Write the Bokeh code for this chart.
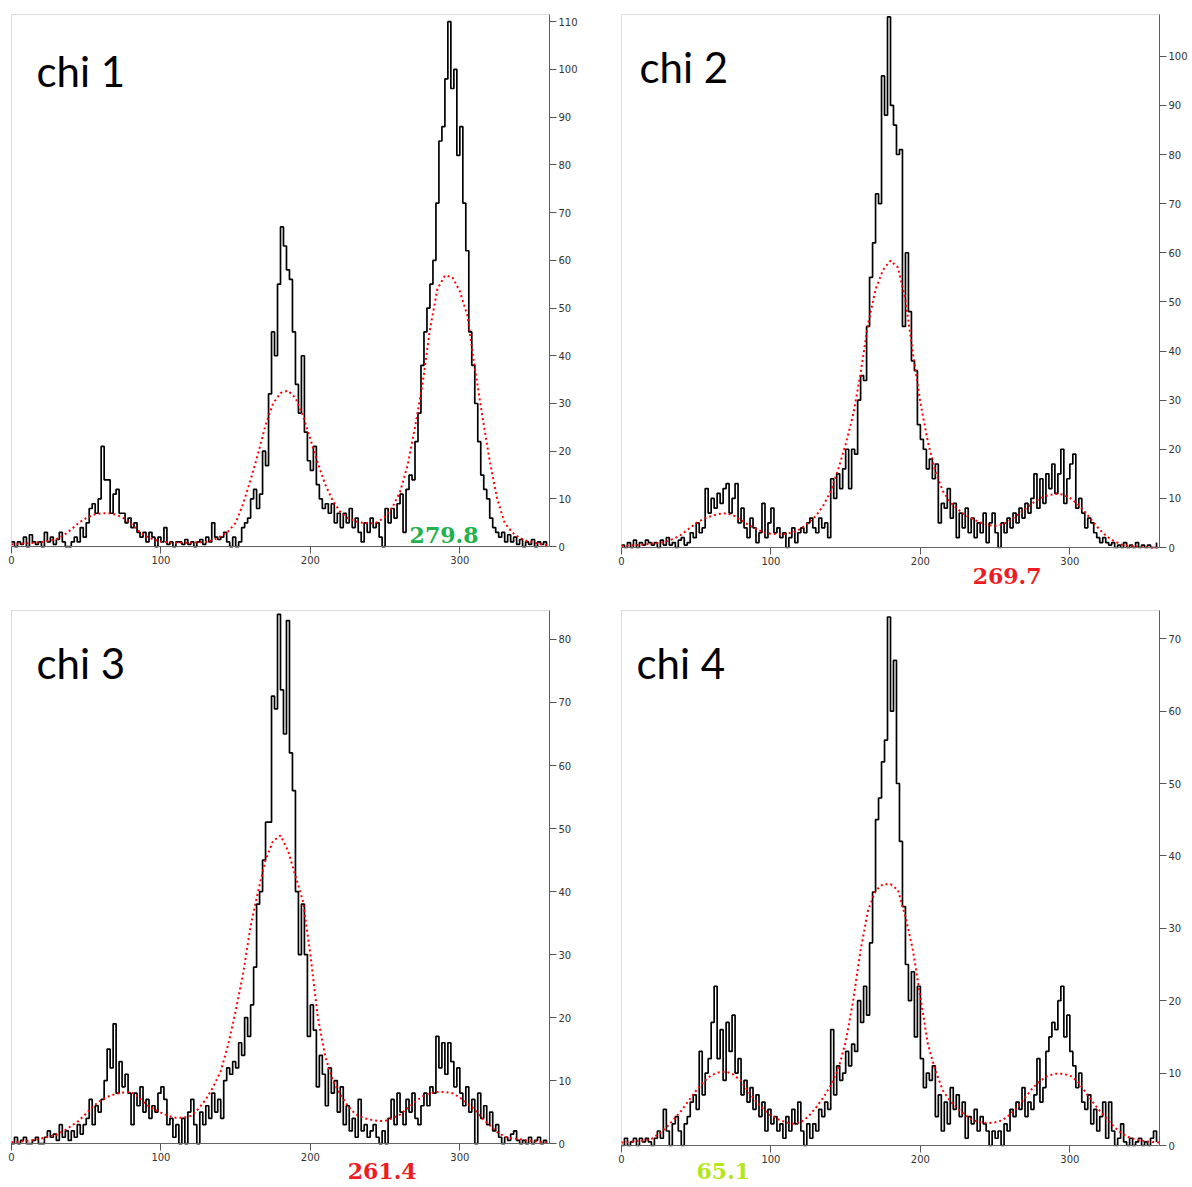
import numpy as np
from bokeh.plotting import figure
from bokeh.models import Range1d, LinearAxis, FixedTicker, Label, BoxAnnotation
from bokeh.layouts import row, column
from bokeh.embed import file_html
from bokeh.resources import INLINE

# ---------------- data ----------------
angle_hist = np.arange(0, 360, 2)      # histogram bins (deg)
angle_fit = np.arange(0, 361, 5)       # fitted curve samples (deg)

chi1_hist = [1, 0, 1, 0.5, 2, 0, 2.5, 1, 0.5, 1,
             0, 3, 1, 2, 0.5, 1.5, 3, 1, 0, 0,
             1, 2, 1, 4, 2, 5, 8, 9, 7, 10,
             21, 14, 14, 7, 11, 12, 7, 7, 5, 6,
             4, 5, 3, 2, 3, 1, 3, 2, 0, 2,
             1, 4, 0.5, 1, 0, 1, 1, 0.5, 1.5, 0.5,
             1, 0, 1, 1.5, 0.5, 2, 1, 5, 2, 1.5,
             2, 3, 1, 0, 2, 0, 1, 4, 5, 6,
             10, 12, 8, 11, 20, 17, 32, 45, 40, 55,
             67, 63, 58, 56, 45, 34, 28, 40, 24, 18,
             16, 21, 13, 10, 8, 9, 7, 9, 5, 7,
             4, 7, 5, 8, 4, 6, 3, 1, 5, 3,
             6, 4, 5, 2, 0, 8, 5, 8, 6, 9,
             11, 3, 12, 15, 14, 22, 28, 38, 45, 50,
             55, 60, 72, 85, 88, 98, 110, 96, 100, 82,
             88, 72, 62, 45, 38, 30, 22, 15, 12, 10,
             6, 4, 3, 2, 3, 1, 2.5, 1, 2, 0.5,
             1.5, 0, 1, 0.5, 1.5, 0, 1, 0.5, 1, 0]

chi2_hist = [0.5, 0, 1, 0, 1.5, 0, 1, 0.5, 1.5, 1,
             0.5, 1, 0, 1.5, 0.5, 2, 0.5, 1, 0, 1.5,
             2, 0.5, 1, 3, 2, 5, 3, 4, 12, 7,
             10, 8, 11, 9, 12, 13, 7, 10, 13, 5,
             8, 4, 2, 6, 4, 1, 3, 9, 2, 5,
             8, 3, 4, 2, 3, 0, 2, 4, 1, 3,
             4, 3, 5, 6, 4, 3, 6, 4, 5, 2,
             14, 10, 15, 12, 16, 20, 12, 20, 19, 30,
             35, 34, 45, 55, 62, 72, 70, 96, 88, 108,
             90, 86, 80, 81, 45, 60, 48, 38, 36, 25,
             22, 20, 16, 18, 14, 17, 5, 9, 8, 12,
             6, 9, 2, 7, 4, 8, 3, 6, 2, 5,
             3, 7, 1, 5, 7, 3, 0, 5, 3, 6,
             4, 7, 5, 8, 6, 9, 7, 10, 15, 8,
             14, 9, 15, 12, 17, 11, 15, 20, 9, 14,
             17, 19, 8, 10, 7, 4, 6, 5, 3, 2,
             1, 2, 1, 0.5, 1, 0, 0.5, 0, 1, 0,
             0.5, 0, 1, 0, 0.5, 0, 0.5, 0, 0, 1]

chi3_hist = [0, 1, 0, 0.5, 1, 0, 0, 0.5, 1, 0,
             0, 1, 2, 1, 1.5, 0.5, 3, 1, 2, 0.5,
             2, 1, 3, 1.5, 3, 4, 7, 3, 6, 5,
             7, 10, 15, 12, 19, 8, 13, 9, 11, 8,
             3, 8, 6, 9, 5, 7, 4, 6, 5, 8,
             9, 7, 3, 4, 1, 3, 0, 4, 0, 5,
             7, 3, 0, 5, 3, 6, 4, 8, 5, 7,
             4, 10, 12, 11, 13, 12, 16, 14, 20, 17,
             22, 28, 38, 40, 45, 51, 51, 71, 69, 84,
             72, 65, 83, 62, 56, 40, 30, 38, 30, 17,
             22, 18, 9, 14, 11, 6, 12, 8, 10, 5,
             9, 3, 6, 2, 4, 1, 7, 2, 3, 1,
             2, 3, 1, 0, 2, 0, 4, 7, 3, 8,
             5, 3, 7, 5, 8, 4, 3, 6, 8, 6,
             9, 8, 17, 12, 16, 11, 16, 13, 9, 12,
             8, 6, 9, 5, 7, 0, 8, 4, 6, 3,
             5, 2, 3, 1, 0, 1, 0.5, 1.5, 2, 0.5,
             0, 0.5, 0, 1, 0, 0.5, 1, 0, 0.5, 0]

chi4_hist = [0, 1, 0, 0.5, 1, 0, 1, 0.5, 1, 0.5,
             0, 1, 2, 1, 5, 2, 0, 3, 4, 2,
             0, 3, 4, 6, 7, 5, 13, 7, 10, 12,
             17, 22, 12, 16, 9, 17, 13, 18, 10, 12,
             7, 9, 6, 8, 5, 7, 4, 6, 2, 5,
             3, 4, 2, 3, 1, 4, 2, 5, 3, 6,
             2, 0, 3, 1, 3, 2, 5, 4, 6, 5,
             16, 7, 11, 9, 10, 13, 11, 14, 13, 20,
             17, 22, 18, 28, 35, 45, 48, 53, 56, 73,
             60, 67, 50, 42, 33, 25, 20, 24, 15, 22,
             12, 8, 10, 9, 11, 4, 7, 2, 6, 3,
             8, 5, 7, 4, 6, 1, 4, 3, 5, 2,
             4, 3, 2, 0, 2, 1, 2, 0, 3, 2,
             5, 4, 6, 5, 8, 4, 6, 5, 7, 12,
             6, 8, 13, 15, 17, 16, 20, 22, 15, 18,
             13, 11, 8, 10, 6, 5, 7, 3, 5, 2,
             4, 6, 1, 6, 2, 0, 1, 3, 0.5, 0,
             1, 0, 0.5, 1, 0, 0.5, 0, 1, 2, 0.5]

chi1_fit = [0.5, 0.6, 0.7, 0.8, 1.0, 1.2, 1.6, 2.4, 3.6, 5.0,
            6.0, 6.7, 7.0, 7.0, 6.7, 6.0, 4.8, 3.3, 2.2, 1.5,
            1.1, 0.9, 0.8, 0.8, 0.8, 0.9, 1.0, 1.4, 2.2, 3.2,
            5.0, 9.0, 14.0, 19.5, 25.5, 30.0, 32.2, 32.7, 31.2, 27.5,
            22.5, 17.5, 13.0, 9.6, 7.3, 6.0, 5.3, 5.0, 4.9, 5.1,
            6.3, 8.3, 11.5, 17.0, 25.0, 34.0, 45.5, 54.0, 56.8, 56.5,
            53.5, 48.5, 37.5, 27.5, 18.0, 10.0, 5.0, 3.0, 1.8, 1.2,
            0.8, 0.5, 0.2]

chi2_fit = [0.3, 0.4, 0.5, 0.6, 0.8, 0.9, 1.2, 1.8, 2.6, 3.8,
            5.0, 5.8, 6.4, 6.8, 7.0, 6.5, 5.6, 4.6, 3.8, 3.1,
            2.8, 2.7, 2.8, 3.1, 3.8, 5.0, 6.4, 8.5, 11.5, 15.9,
            21.0, 27.0, 35.5, 45.5, 52.5, 56.5, 58.4, 57.0, 50.5, 39.5,
            29.5, 21.5, 15.5, 11.5, 9.2, 7.8, 6.6, 5.8, 5.1, 4.6,
            4.4, 4.7, 5.5, 6.6, 7.8, 9.0, 10.0, 10.6, 10.9, 10.8,
            10.1, 8.9, 7.3, 5.4, 3.6, 2.2, 1.2, 0.6, 0.3, 0.2,
            0.1, 0.0, 0.0]

chi3_fit = [0.2, 0.3, 0.4, 0.6, 0.8, 1.1, 1.4, 2.0, 2.8, 3.6,
            4.8, 6.0, 6.9, 7.5, 7.9, 8.1, 8.2, 7.4, 6.2, 5.5,
            4.9, 4.4, 4.1, 4.1, 4.4, 5.5, 7.0, 9.0, 11.5, 15.7,
            21.0, 27.0, 34.5, 40.0, 45.0, 48.0, 48.9, 46.5, 42.5, 38.5,
            30.0, 20.0, 13.8, 10.0, 7.8, 6.0, 4.7, 4.1, 3.8, 3.6,
            3.6, 4.0, 4.6, 5.6, 6.6, 7.5, 8.0, 8.2, 8.2, 8.0,
            7.3, 6.4, 5.4, 4.0, 2.9, 1.8, 1.1, 0.8, 0.7, 0.5,
            0.4, 0.2, 0.15]

chi4_fit = [0.4, 0.5, 0.6, 0.7, 0.9, 1.6, 2.5, 3.6, 4.8, 6.2,
            7.6, 8.8, 9.7, 10.1, 10.2, 9.8, 8.9, 7.4, 6.1, 5.0,
            4.1, 3.6, 3.2, 3.0, 3.2, 4.0, 5.2, 6.6, 8.3, 10.5,
            14.3, 20.0, 27.0, 32.5, 35.2, 36.1, 36.1, 35.3, 31.6, 27.0,
            20.5, 14.0, 10.4, 7.6, 6.1, 5.1, 4.2, 3.5, 3.2, 3.1,
            3.2, 3.5, 4.3, 5.3, 6.6, 7.9, 8.9, 9.6, 9.9, 9.9,
            9.7, 8.9, 7.5, 6.1, 4.8, 3.6, 2.5, 1.6, 1.1, 0.8,
            0.6, 0.5, 0.4]

panel_names = ["chi 1", "chi 2", "chi 3", "chi 4"]
peak_labels = ["279.8", "269.7", "261.4", "65.1"]
peak_label_x = [266.4, 235.0, 225.0, 50.2]
peak_colors = ["#22b14c", "#ed1c24", "#ed1c24", "#b5e61d"]
y_max = [111.5, 108.5, 84.6, 73.9]
x_max = 360
x_ticks = [0, 100, 200, 300]
y_ticks = [list(range(0, 111, 10)), list(range(0, 101, 10)),
           list(range(0, 81, 10)), list(range(0, 71, 10))]

LEFT_PAD = 9   # px of frame kept left of x = 0 so the "0" tick label shows


def make_panel(hist, fit, ymax, yt, name, num, num_x, num_color,
               W, H, x0_px, xr_px, ytop_px, y0_px,
               name_dx, name_dy, num_dy):
    # pixel geometry -> ranges (frame extends to the canvas bottom so that
    # the value label under the axis is drawn inside the frame)
    sx = (xr_px - x0_px) / x_max
    sy = (y0_px - ytop_px) / ymax
    x_start = -LEFT_PAD / sx
    y_end = ymax + 1.0 / sy
    y_start = -(H - y0_px) / sy

    p = figure(width=W, height=H,
               x_range=Range1d(x_start, x_max), y_range=Range1d(y_start, y_end),
               x_axis_location=None, y_axis_location=None,
               toolbar_location=None, output_backend="svg",
               min_border_left=x0_px - LEFT_PAD, min_border_top=ytop_px - 1,
               min_border_right=W - xr_px, min_border_bottom=0)
    for g in p.grid:
        g.visible = False
    p.outline_line_color = None
    p.background_fill_color = "white"
    p.border_fill_color = "white"

    # frame (top & left edges) of the data area
    p.add_layout(BoxAnnotation(left=0, right=x_max, bottom=0, top=ymax,
                               fill_color=None, line_color="#8a8a8a",
                               line_width=1))

    xa = LinearAxis(ticker=FixedTicker(ticks=x_ticks), fixed_location=0,
                    bounds=(0, x_max))
    ya = LinearAxis(ticker=FixedTicker(ticks=yt), bounds=(0, ymax))
    for ax in (xa, ya):
        ax.axis_line_color = "#555555"
        ax.major_tick_line_color = "#555555"
        ax.major_tick_in = 0
        ax.major_tick_out = 7
        ax.minor_tick_line_color = None
        ax.major_label_text_font = "DejaVu Sans"
        ax.major_label_text_font_size = "10px"
        ax.major_label_text_color = "#333333"
        ax.major_label_standoff = 2
    p.add_layout(xa, "below")
    p.add_layout(ya, "right")

    p.step(angle_hist, hist, mode="after", line_color="black", line_width=1.7)
    p.line(angle_fit, fit, line_color="#ff0000", line_width=2, line_dash="2 3")

    p.add_layout(Label(x=0, y=ymax, x_offset=name_dx, y_offset=-name_dy,
                       text=name, text_font="Lato", text_font_size="42px",
                       text_color="black", text_baseline="alphabetic"))
    p.add_layout(Label(x=num_x, y=0, y_offset=num_dy, text=num,
                       text_font="DejaVu Serif", text_font_style="bold",
                       text_font_size="22px", text_color=num_color,
                       text_baseline="alphabetic"))
    return p


p1 = make_panel(chi1_hist, chi1_fit, y_max[0], y_ticks[0], panel_names[0],
                peak_labels[0], peak_label_x[0], peak_colors[0],
                600, 600, 11, 549, 12, 546, 25, 57, 12)
p2 = make_panel(chi2_hist, chi2_fit, y_max[1], y_ticks[1], panel_names[1],
                peak_labels[1], peak_label_x[1], peak_colors[1],
                592, 600, 21, 559, 14, 547, 18, 52, -28)
p3 = make_panel(chi3_hist, chi3_fit, y_max[2], y_ticks[2], panel_names[2],
                peak_labels[2], peak_label_x[2], peak_colors[2],
                600, 585, 11, 549, 9, 543, 25, 53, -27)
p4 = make_panel(chi4_hist, chi4_fit, y_max[3], y_ticks[3], panel_names[3],
                peak_labels[3], peak_label_x[3], peak_colors[3],
                592, 585, 21, 559, 10, 545, 15, 52, -25)

layout = column(row(p1, p2), row(p3, p4))
open("out.html", "w").write(file_html(layout, INLINE))
